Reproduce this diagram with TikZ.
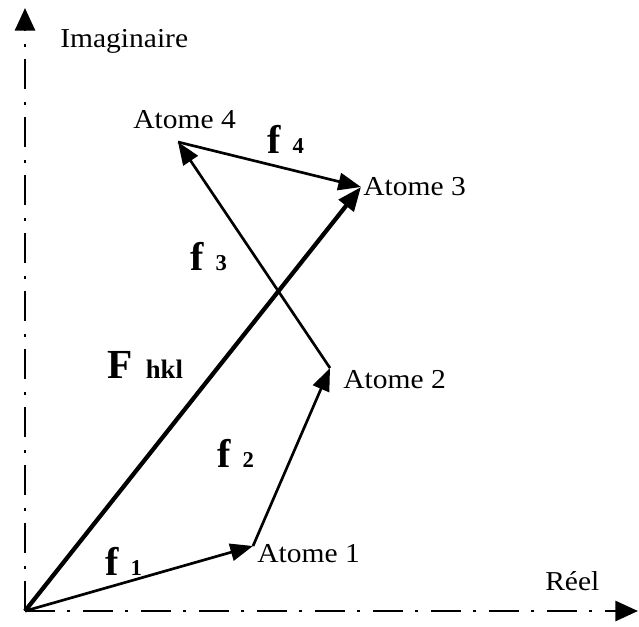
\documentclass[tikz,border=0pt]{standalone}
\usepackage{fontspec}
\setmainfont{Liberation Serif}
\usetikzlibrary{arrows.meta}
\newcommand\widetxt[1]{\scalebox{1.08}[1]{#1}}
\newcommand\fvec[2]{{\fontsize{30pt}{32pt}\selectfont\bfseries f}\hspace{9pt}{\fontsize{17pt}{19pt}\selectfont\bfseries #2}}
\begin{document}
\begin{tikzpicture}[x=0.75pt,y=-0.75pt,
  axis/.style={line width=2.2pt, dash pattern=on 22.5pt off 9pt on 2.25pt off 9.75pt, -{Triangle[length=17pt,width=15pt]}},
  vec/.style={line width=2pt, -{Triangle[length=17pt,width=13pt]}},
  bigvec/.style={line width=3.2pt, -{Triangle[length=18pt,width=14pt]}},
  lbl/.style={inner sep=0pt, anchor=base west, font=\fontsize{20.5pt}{22pt}\selectfont},
  vlbl/.style={inner sep=0pt, anchor=base west}]
\useasboundingbox (0,0) rectangle (639,626);
\coordinate (O) at (25,611);
\coordinate (Ytip) at (25,8);
\coordinate (Xtip) at (638,611);
\coordinate (A1) at (253,546);
\coordinate (A2) at (330,368);
\coordinate (A3) at (361,187);
\coordinate (A4) at (178,142);
% axes
\draw[axis] (O) -- (Ytip);
\draw[axis] (O) -- (Xtip);
% vectors
\draw[bigvec] (O) -- (A3);
\draw[vec] (O) -- (A1);
\draw[vec] (A1) -- (A2);
\draw[vec] (A2) -- (A4);
\draw[vec] (A4) -- (A3);
% labels
\node[lbl] (limag) at (60,47) {\widetxt{Imaginaire}};
\node[lbl] (lreel) at (545,590) {\widetxt{Réel}};
\node[lbl] (lat1) at (257,562) {\widetxt{Atome 1}};
\node[lbl] (lat2) at (343,388) {\widetxt{Atome 2}};
\node[lbl] (lat3) at (363,195) {\widetxt{Atome 3}};
\node[lbl] (lat4) at (133,128) {\widetxt{Atome 4}};
\node[vlbl] (lf1) at (105,575) {\fvec{f}{1}};
\node[vlbl] (lf2) at (217,467) {\fvec{f}{2}};
\node[vlbl] (lf3) at (190,270) {\fvec{f}{3}};
\node[vlbl] (lf4) at (267,153) {\fvec{f}{4}};
\node[vlbl] (lF) at (107,378) {{\fontsize{31pt}{33pt}\selectfont\bfseries F}\hspace{10pt}{\fontsize{20pt}{22pt}\selectfont\bfseries hkl}};
\end{tikzpicture}
\end{document}
